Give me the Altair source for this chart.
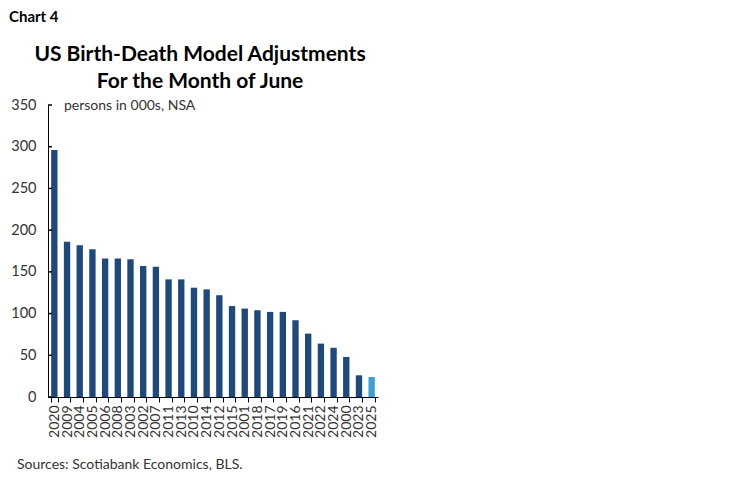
import altair as alt
import pandas as pd

years = ["2020", "2009", "2004", "2005", "2006", "2008", "2003", "2002", "2007",
         "2011", "2013", "2010", "2014", "2012", "2015", "2001", "2018", "2017",
         "2019", "2016", "2021", "2022", "2024", "2000", "2023", "2025"]
values = [296, 186, 182, 177, 166, 166, 165, 157, 156,
          141, 141, 131, 129, 122, 109, 106, 104, 102,
          102, 92, 76, 64, 59, 48, 26, 24]
highlight = ["no"] * 25 + ["yes"]
y_ticks = [0, 50, 100, 150, 200, 250, 300, 350]

df = pd.DataFrame({"year": years, "value": values, "hl": highlight})

FONT = "Lato"
TXT = "#333333"

bars = alt.Chart(df).mark_bar().encode(
    x=alt.X("year:N", sort=years, title=None,
            scale=alt.Scale(paddingInner=0.5, paddingOuter=0.25),
            axis=alt.Axis(labelAngle=270, labelAlign="right", labelBaseline="middle",
                          labelFontSize=14, labelColor=TXT, labelPadding=3,
                          tickBand="extent", tickSize=5, tickColor="black",
                          domainColor="black", labelFont=FONT)),
    y=alt.Y("value:Q", title=None,
            scale=alt.Scale(domain=[0, 350], nice=False),
            axis=alt.Axis(values=y_ticks, ticks=False,
                          labelFontSize=14.5, labelColor=TXT, labelPadding=12,
                          domainColor="black", grid=False, labelFont=FONT)),
    color=alt.Color("hl:N", legend=None,
                    scale=alt.Scale(domain=["no", "yes"], range=["#1F497D", "#3D9FD8"])),
)

inner_ticks = alt.Chart(pd.DataFrame({"v": y_ticks})).mark_rule(
    color="black", strokeWidth=1.5
).encode(y="v:Q", x=alt.value(0), x2=alt.value(4))

note_text = ["Chart 4", "US Birth-Death Model Adjustments", "For the Month of June",
             "persons in 000s, NSA", "Sources: Scotiabank Economics, BLS."]
note_x = [-39, 152, 152, 16, -31]
note_y = [-83, -44, -17, 5, 364]
note_size = [15, 21, 21, 14, 14]
note_weight = ["bold", "bold", "bold", "normal", "normal"]
note_align = ["left", "center", "center", "left", "left"]


def note(i):
    return alt.Chart(pd.DataFrame({"t": [note_text[i]]})).mark_text(
        align=note_align[i], baseline="alphabetic", fontSize=note_size[i],
        fontWeight=note_weight[i], font=FONT,
        color="black" if note_weight[i] == "bold" else TXT,
    ).encode(text="t:N", x=alt.value(note_x[i]), y=alt.value(note_y[i]))


chart = alt.layer(bars, inner_ticks, *[note(i) for i in range(len(note_text))]).properties(
    width=330, height=292,
    autosize=alt.AutoSizeParams(type="none"),
    padding={"left": 40, "top": 97, "right": 10, "bottom": 78},
).configure_view(stroke=None)

chart.save("out.html", embed_options={"renderer": "svg", "actions": False})
